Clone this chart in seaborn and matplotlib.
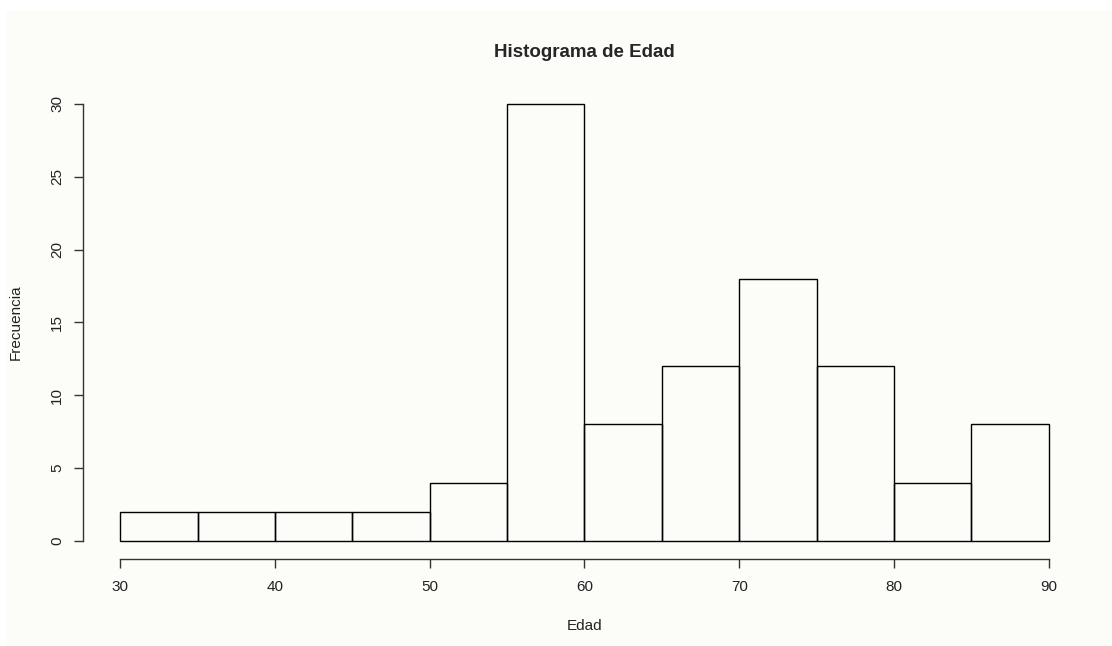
import seaborn as sns
import matplotlib.pyplot as plt
from matplotlib.patches import Rectangle
import numpy as np
import pandas as pd

# Histogram data (5-year bins)
bin_edges = [30, 35, 40, 45, 50, 55, 60, 65, 70, 75, 80, 85, 90]
counts = [2, 2, 2, 2, 4, 30, 8, 12, 18, 12, 4, 8]
x_ticks = [30, 40, 50, 60, 70, 80, 90]
y_ticks = [0, 5, 10, 15, 20, 25, 30]

# Rebuild the raw ages from the bin midpoints
mids = [(a + b) / 2 for a, b in zip(bin_edges[:-1], bin_edges[1:])]
df = pd.DataFrame({"Edad": np.repeat(mids, counts)})

bg = "#fcfdf8"
sns.set_style("white")
plt.rcParams["font.family"] = ["Liberation Sans", "DejaVu Sans"]

fig = plt.figure(figsize=(11.12, 6.46), dpi=100, facecolor=bg)
# white strips on top and left like the screenshot
fig.patches.append(Rectangle((0, 1 - 11 / 646), 1, 11 / 646, transform=fig.transFigure,
                             facecolor="white", edgecolor="none", zorder=-1))
fig.patches.append(Rectangle((0, 0), 6 / 1112, 1, transform=fig.transFigure,
                             facecolor="white", edgecolor="none", zorder=-1))

ax = fig.add_axes([83 / 1112, 87.5 / 646, 1003 / 1112, 472 / 646])
ax.set_facecolor("none")

sns.histplot(data=df, x="Edad", bins=bin_edges, fill=False, color="black",
             edgecolor="black", linewidth=1.0, element="bars", ax=ax)

ax.set_xlim(27.6, 92.4)
ax.set_ylim(-1.2, 31.2)
ax.set_xticks(x_ticks)
ax.set_yticks(y_ticks)
ax.set_yticklabels([str(v) for v in y_ticks], rotation=90, va="center")

for s in ["top", "right"]:
    ax.spines[s].set_visible(False)
ax.spines["left"].set_bounds(0, 30)
ax.spines["bottom"].set_bounds(30, 90)
for s in ["left", "bottom"]:
    ax.spines[s].set_color("#333333")
    ax.spines[s].set_linewidth(1.0)

ax.tick_params(axis="both", direction="out", length=6.5, width=1.0, color="#333333",
               labelsize=11, labelcolor="#222222", left=True, bottom=True)
ax.tick_params(axis="x", pad=9)
ax.tick_params(axis="y", pad=7)

ax.set_title("Histograma de Edad", fontsize=13.5, fontweight="bold", pad=21)
ax.set_xlabel("Edad", fontsize=11, labelpad=18, color="#222222")
ax.set_ylabel("Frecuencia", fontsize=11, labelpad=20, color="#222222")

fig.savefig("out.png", dpi=100, facecolor=bg)
